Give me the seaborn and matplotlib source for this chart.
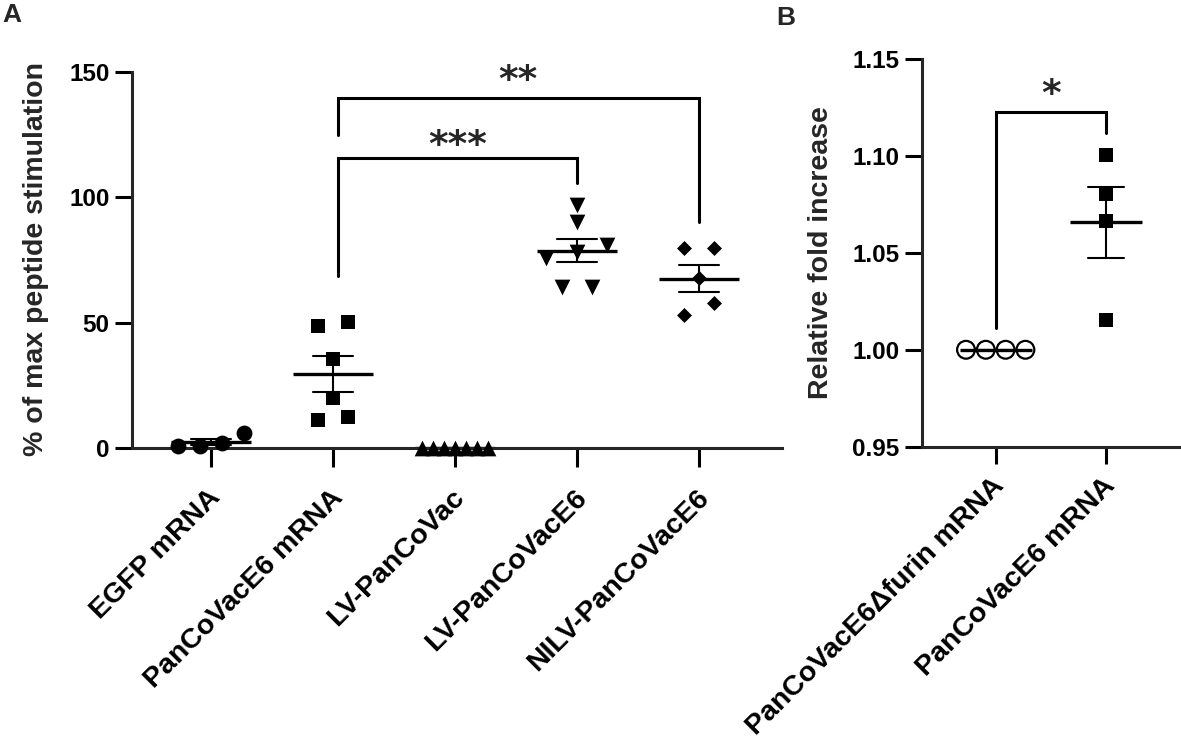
import numpy as np
import pandas as pd
import matplotlib
matplotlib.use("Agg")
import matplotlib.pyplot as plt
import matplotlib.transforms as mtransforms
import seaborn as sns

# panel A: % of max peptide stimulation
groups_a = ["EGFP mRNA", "PanCoVacE6 mRNA", "LV-PanCoVac",
            "LV-PanCoVacE6", "NILV-PanCoVacE6"]
egfp_mrna = [0.8, 6.0, 1.0, 2.0]
pancovace6_mrna = [11.2, 12.2, 19.8, 35.4, 48.8, 50.4]
lv_pancovac = [0, 0, 0, 0, 0, 0, 0]
lv_pancovace6 = [64.3, 64.3, 75.7, 78.3, 81.0, 90.3, 96.9]
nilv_pancovace6 = [53.0, 57.7, 67.9, 79.6, 79.6]
markers_a = ["o", "s", "^", "v", "D"]

# panel B: relative fold increase
groups_b = ["PanCoVacE6\u0394furin mRNA", "PanCoVacE6 mRNA"]
delta_furin = [1.0, 1.0, 1.0, 1.0]
pancovace6_b = [1.0154, 1.0666, 1.0804, 1.1005]

# significance brackets (x1, x2, top, left leg end, right leg end, label, label baseline)
brackets_a = [(1.04, 3, 115.6, 68.6, 105.6, "***", 116.5),
              (1.04, 4, 139.7, 124.8, 90.3, "**", 142.5)]
brackets_b = [(0, 1, 1.1228, 1.0111, 1.112, "*", 1.1262)]


def spread(values, thresh, gap, width):
    """Prism-like scatter: spread near-equal values symmetrically."""
    values = np.asarray(values, dtype=float)
    order = np.argsort(values, kind="stable")
    v = values[order]
    clusters = [[0]]
    for i in range(1, len(v)):
        if v[i] - v[clusters[-1][-1]] < thresh:
            clusters[-1].append(i)
        else:
            clusters.append([i])
    offs = np.zeros(len(v))
    for c in clusters:
        n = len(c)
        if n > 1:
            step = min(gap, width / (n - 1))
            for k, i in enumerate(c):
                offs[i] = (k - (n - 1) / 2) * step
    out = np.empty(len(v))
    out[order] = offs
    return out


def long_table(groups, series, thresh, gap, width):
    rows = []
    for i, (g, vals) in enumerate(zip(groups, series)):
        xs = i + spread(vals, thresh, gap, width)
        for x, v in zip(xs, vals):
            rows.append({"group": g, "pos": x, "value": v})
    return pd.DataFrame(rows)


sns.set_theme(style="ticks")
plt.rcParams["font.family"] = ["Liberation Sans", "DejaVu Sans"]
plt.rcParams["font.weight"] = "bold"
plt.rcParams["axes.labelweight"] = "bold"

df_a = long_table(groups_a, [egfp_mrna, pancovace6_mrna, lv_pancovac,
                             lv_pancovace6, nilv_pancovace6], 5, 0.25, 0.54)
df_b = long_table(groups_b, [delta_furin, pancovace6_b], 0.006, 0.25, 0.54)

fig = plt.figure(figsize=(11.81, 7.44), dpi=100)
ax_a = fig.add_axes([0.1115, 0.3978, 0.5504, 0.5054])
ax_b = fig.add_axes([0.7804, 0.3996, 0.2196, 0.5211])


def mean_sem(ax, df, order, msize):
    sns.pointplot(data=df, x="group", y="value", order=order, ax=ax,
                  estimator="mean", errorbar="se", capsize=0.33,
                  color="black", markers="_", linestyles="none",
                  markersize=msize, markeredgewidth=2.4,
                  err_kws={"linewidth": 1.5})


def style_axis(ax, ylabel, lx, ly, labels, xtick_len, shift_px):
    sns.despine(ax=ax)
    for s in ["left", "bottom"]:
        ax.spines[s].set_linewidth(2.2)
    ax.tick_params(axis="both", direction="out", length=12, width=2.2,
                   color="black", labelcolor="black")
    ax.tick_params(axis="x", length=xtick_len)
    ax.tick_params(axis="y", labelsize=17.5, pad=4)
    ax.set_xticks(range(len(labels)))
    ax.set_xticklabels(labels, rotation=45, ha="right", va="center",
                       rotation_mode="anchor", fontsize=20.5)
    shift = mtransforms.ScaledTranslation(shift_px[0] / 100, shift_px[1] / 100,
                                          fig.dpi_scale_trans)
    for lab in ax.get_xticklabels():
        lab.set_transform(lab.get_transform() + shift)
    ax.set_xlabel("")
    ax.set_ylabel(ylabel, fontsize=20.5, va="center")
    ax.yaxis.set_label_coords(lx, ly)
    ax.set_facecolor("white")


def draw_brackets(ax, brackets):
    for x1, x2, top, l_end, r_end, label, base in brackets:
        ax.plot([x1, x1, x2, x2], [l_end, top, top, r_end], color="black",
                lw=2.2, solid_joinstyle="miter", clip_on=False)
        ax.text((x1 + x2) / 2, base, label, ha="center", va="baseline",
                fontsize=27, fontweight="bold", family="DejaVu Sans")


# ---- panel A
mean_sem(ax_a, df_a, groups_a, 57)
for g, m in zip(groups_a, markers_a):
    sub = df_a[df_a["group"] == g]
    size = {"o": 130, "s": 106, "^": 128, "v": 128, "D": 58}[m]
    sns.scatterplot(data=sub, x="pos", y="value", marker=m, s=size,
                    color="black", edgecolor="black", linewidth=0,
                    ax=ax_a, clip_on=False, zorder=3, legend=False)
ax_a.set_xlim(-0.65, 4.68)
ax_a.set_ylim(0, 150)
ax_a.set_yticks([0, 50, 100, 150])
style_axis(ax_a, "% of max peptide stimulation", -0.147, 0.504, groups_a,
           13.5, (6, -22))
draw_brackets(ax_a, brackets_a)

# ---- panel B
mean_sem(ax_b, df_b, groups_b, 52.5)
sub = df_b[df_b["group"] == groups_b[0]]
ax_b.scatter(sub["pos"], sub["value"], s=164, marker="o",
             facecolors="none", edgecolors="black", linewidths=1.6,
             zorder=3, clip_on=False)
sub = df_b[df_b["group"] == groups_b[1]]
sns.scatterplot(data=sub, x="pos", y="value", marker="s", s=106,
                color="black", edgecolor="black", linewidth=0,
                ax=ax_b, clip_on=False, zorder=3, legend=False)
ax_b.set_xlim(-0.673, 1.684)
ax_b.set_ylim(0.95, 1.15)
ax_b.set_yticks([0.95, 1.00, 1.05, 1.10, 1.15])
ax_b.set_yticklabels(["0.95", "1.00", "1.05", "1.10", "1.15"])
style_axis(ax_b, "Relative fold increase", -0.388, 0.501, groups_b,
           12, (5, -14))
draw_brackets(ax_b, brackets_b)

fig.text(2 / 1181, 1 - 3 / 744, "A", ha="left", va="top",
         fontsize=19, fontweight="bold")
fig.text(776 / 1181, 1 - 6 / 744, "B", ha="left", va="top",
         fontsize=19, fontweight="bold")

fig.savefig("out.png", dpi=100, facecolor="white")
